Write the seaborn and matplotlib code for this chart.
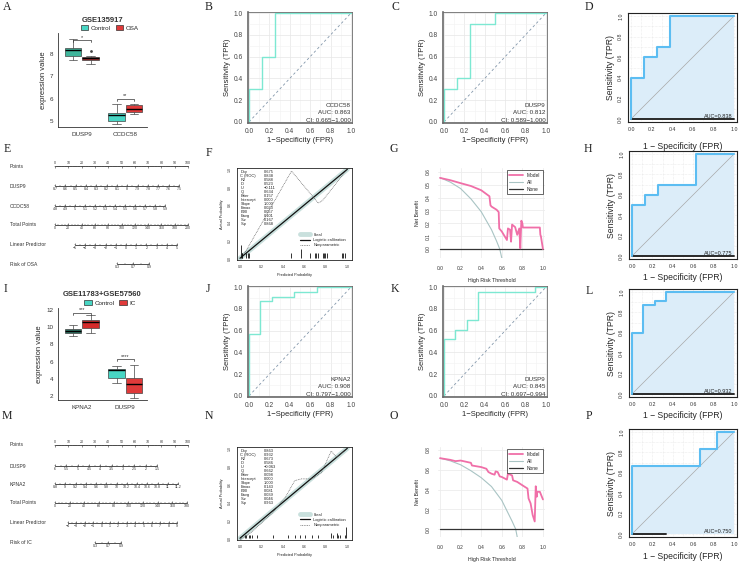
import numpy as np
import pandas as pd
import matplotlib
matplotlib.use("Agg")
import matplotlib.pyplot as plt
import seaborn as sns
from matplotlib.patches import Patch

W, H = 741, 563

# ---------------- data ----------------
# A: GSE135917 expression (raw points giving each box)
a_genes = ["DUSP9", "CCDC58"]
a_groups = ["Control", "OSA"]
a_dusp9_control = [7.74, 7.92, 8.17, 8.27, 8.68]
a_dusp9_osa = [7.56, 7.65, 7.73, 7.78, 7.82, 7.85, 7.88, 7.90, 8.15]
a_ccdc58_control = [4.85, 5.00, 5.26, 5.38, 5.75]
a_ccdc58_osa = [5.33, 5.39, 5.56, 5.74, 5.78]
a_sig = ["*", "**"]

# I: GSE11783+GSE57560 expression
i_genes = ["KPNA2", "DUSP9"]
i_groups = ["Control", "IC"]
i_kpna2_control = [8.96, 9.35, 9.54, 9.73, 10.23]
i_kpna2_ic = [9.35, 9.92, 10.58, 10.81, 11.35]
i_dusp9_control = [3.50, 4.12, 5.04, 5.19, 5.50]
i_dusp9_ic = [1.85, 2.42, 3.46, 4.15, 5.58]
i_sig = ["***", "****"]

# ROC curves (ggplot style)
b_fpr = [0, 0, 0.125, 0.125, 0.25, 0.25, 1]
b_tpr = [0, 0.3, 0.3, 0.6, 0.6, 1.0, 1.0]
c_fpr = [0, 0, 0.125, 0.125, 0.25, 0.25, 0.5, 0.5, 1]
c_tpr = [0, 0.3, 0.3, 0.4, 0.4, 0.9, 0.9, 1.0, 1.0]
j_fpr = [0, 0, 0.111, 0.111, 0.222, 0.222, 0.444, 0.444, 0.667, 0.667, 1]
j_tpr = [0, 0.565, 0.565, 0.87, 0.87, 0.913, 0.913, 0.957, 0.957, 1.0, 1.0]
k_fpr = [0, 0, 0.111, 0.111, 0.222, 0.222, 0.333, 0.333, 0.889, 0.889, 1]
k_tpr = [0, 0.52, 0.52, 0.61, 0.61, 0.70, 0.70, 0.957, 0.957, 1.0, 1.0]
roc_text = {
    "B": ["CCDC58", "AUC: 0.863", "CI: 0.665\u22121.000"],
    "C": ["DUSP9", "AUC: 0.812", "CI: 0.589\u22121.000"],
    "J": ["KPNA2", "AUC: 0.908", "CI: 0.797\u22121.000"],
    "K": ["DUSP9", "AUC: 0.845", "CI: 0.697\u22120.994"],
}

# ROC curves (nomogram models, base R style)
d_fpr = [0, 0, 0.125, 0.125, 0.25, 0.25, 0.375, 0.375, 1]
d_tpr = [0, 0.4, 0.4, 0.6, 0.6, 0.7, 0.7, 1.0, 1.0]
h_fpr = [0, 0, 0.125, 0.125, 0.25, 0.25, 0.625, 0.625, 1]
h_tpr = [0, 0.5, 0.5, 0.6, 0.6, 0.7, 0.7, 1.0, 1.0]
l_fpr = [0, 0, 0.111, 0.111, 0.222, 0.222, 0.333, 0.333, 1]
l_tpr = [0, 0.6, 0.6, 0.87, 0.87, 0.91, 0.91, 1.0, 1.0]
p_fpr = [0, 0, 0.667, 0.667, 0.833, 0.833, 1]
p_tpr = [0, 0.667, 0.667, 0.833, 0.833, 1.0, 1.0]
auc_labels = {"D": "AUC=0.838", "H": "AUC=0.775", "L": "AUC=0.932", "P": "AUC=0.750"}

# decision curves
g_model_x = [0, 0.1, 0.2, 0.3, 0.4, 0.48, 0.49, 0.5, 0.55, 0.57, 0.575, 0.6, 0.65, 0.66,
             0.68, 0.69, 0.70, 0.73, 0.75, 0.77, 0.78, 0.79, 0.80, 0.805, 0.97, 0.975, 0.98, 1.0]
g_model_y = [0.553, 0.535, 0.512, 0.49, 0.457, 0.41, 0.34, 0.33, 0.305, 0.287, 0.16, 0.136, 0.07, 0.16,
             0.15, 0.057, 0.19, 0.17, 0.11, 0.16, 0.005, 0.22, 0.20, 0.167, 0.167, 0.11, 0.10, 0.0]
g_all_x = [0, 0.1, 0.2, 0.3, 0.4, 0.5, 0.55, 0.58, 0.6]
g_all_y = [0.555, 0.52, 0.47, 0.39, 0.29, 0.15, 0.06, 0.0, -0.07]
o_model_x = [0, 0.1, 0.15, 0.2, 0.3, 0.31, 0.4, 0.45, 0.47, 0.5, 0.53, 0.54, 0.56, 0.58, 0.6,
             0.65, 0.66, 0.7, 0.71, 0.75, 0.8, 0.85, 0.86, 0.88, 0.9, 0.92, 0.93, 0.94, 0.945, 0.97, 1.0]
o_model_y = [0.717, 0.70, 0.687, 0.693, 0.67, 0.643, 0.627, 0.61, 0.577, 0.56, 0.55, 0.583, 0.577, 0.533, 0.527,
             0.50, 0.56, 0.543, 0.493, 0.477, 0.443, 0.41, 0.31, 0.26, 0.143, 0.077, 0.433, 0.327, 0.377, 0.377, 0.30]
o_all_x = [0, 0.1, 0.2, 0.3, 0.4, 0.5, 0.6, 0.7, 0.735, 0.75]
o_all_y = [0.717, 0.69, 0.65, 0.59, 0.52, 0.43, 0.29, 0.08, 0.0, -0.08]

# calibration curves
cal_names = ["Dxy", "C (ROC)", "R2", "D", "U", "Q", "Brier", "Intercept", "Slope",
             "Emax", "E90", "Eavg", "S:z", "S:p"]
f_stats = ["0.675", "0.838", "0.588", "0.523", "\u22120.111", "0.634", "0.157", "0.000", "1.000",
           "0.023", "0.057", "0.101", "0.167", "0.868"]
n_stats = ["0.863", "0.932", "0.673", "0.586", "\u22120.063", "0.662", "0.098", "0.000", "1.000",
           "0.143", "0.081", "0.039", "0.046", "0.963"]
f_np_x = [0.0, 0.05, 0.48, 0.73, 0.77, 1.0]
f_np_y = [0.0, 0.07, 0.98, 0.62, 0.65, 1.0]
n_np_x = [0.0, 0.11, 0.3, 0.42, 0.51, 0.57, 0.67, 0.76, 0.85, 0.9, 1.0]
n_np_y = [-0.02, 0.07, 0.28, 0.45, 0.64, 0.66, 0.66, 0.73, 0.97, 0.9, 1.0]
f_rug_x = [0.01, 0.016, 0.02, 0.06, 0.07, 0.08, 0.475, 0.57, 0.65, 0.70, 0.71, 0.73,
           0.77, 0.78, 0.79, 0.81, 0.95, 0.96, 0.98]
f_rug_h = [0.15, 0.06, 0.06, 0.06, 0.06, 0.06, 0.06, 0.1, 0.06, 0.06, 0.06, 0.06,
           0.06, 0.06, 0.06, 0.06, 0.06, 0.06, 0.06]
n_rug_x = [0.05, 0.06, 0.08, 0.09, 0.11, 0.16, 0.31, 0.45, 0.51, 0.56, 0.61, 0.67,
           0.73, 0.85, 0.87, 0.90, 0.91, 0.93, 0.98, 0.99]
n_rug_h = [0.04, 0.04, 0.04, 0.04, 0.04, 0.04, 0.04, 0.04, 0.04, 0.04, 0.04, 0.04,
           0.04, 0.06, 0.04, 0.06, 0.04, 0.04, 0.04, 0.12]

# nomograms
e_rows = ["Points", "DUSP9", "CCDC58", "Total Points", "Linear Predictor", "Risk of OSA"]
e_points = ["0", "10", "20", "30", "40", "50", "60", "70", "80", "90", "100"]
e_dusp9 = ["8.7", "8.6", "8.5", "8.4", "8.3", "8.2", "8.1", "8", "7.9", "7.8", "7.7", "7.6", "7.5"]
e_ccdc58 = ["4.8", "4.9", "5", "5.1", "5.2", "5.3", "5.4", "5.5", "5.6", "5.7", "5.8", "5.9"]
e_total = ["0", "20", "40", "60", "80", "100", "120", "140", "160", "180", "200"]
e_lp = ["\u22125", "\u22124", "\u22123", "\u22122", "\u22121", "0", "1", "2", "3", "4", "5"]
e_risk = ["0.3", "0.7", "0.9"]
m_rows = ["Points", "DUSP9", "KPNA2", "Total Points", "Linear Predictor", "Risk of IC"]
m_points = ["0", "10", "20", "30", "40", "50", "60", "70", "80", "90", "100"]
m_dusp9 = ["6", "5.5", "5", "4.5", "4", "3.5", "3", "2.5", "2", "1.5"]
m_kpna2 = ["8.8", "9", "9.2", "9.4", "9.6", "9.8", "10", "10.2", "10.4", "10.6", "10.8", "11", "11.2"]
m_total = ["0", "20", "40", "60", "80", "100", "120", "140", "160", "180"]
m_lp = ["\u22124", "\u22123", "\u22122", "\u22121", "0", "1", "2", "3", "4", "5", "6", "7", "8", "9"]
m_risk = ["0.3", "0.7", "0.9"]

# ---------------- style ----------------
sns.set_theme(style="white")
plt.rcParams["font.family"] = ["Liberation Sans", "DejaVu Sans"]
plt.rcParams["axes.unicode_minus"] = True

TEAL = "#48d6c4"
ROC_GREEN = "#7de8d2"
BLUE = "#5cbdf2"
FILL = "#dcedf9"
PINK = "#f06fa8"
ALLC = "#a9c4c4"

fig = plt.figure(figsize=(W / 100, H / 100), dpi=100)


def add_ax(box):
    l, t, r, b = box
    return fig.add_axes([l / W, 1 - b / H, (r - l) / W, (b - t) / H])


def letter(x, y, s):
    fig.text(x / W, 1 - y / H, s, fontsize=8.5, family="Liberation Serif",
             ha="center", va="center", color="#222222")


def expr_panel(box, title, genes, groups, data, colors, sig, sig_y, ylim, yticks):
    rows = []
    for (gene, grp), vals in data.items():
        for v in vals:
            rows.append((gene, grp, v))
    df = pd.DataFrame(rows, columns=["gene", "group", "value"])
    ax = add_ax(box)
    sns.boxplot(data=df, x="gene", y="value", hue="group", order=genes, hue_order=groups,
                width=0.8, gap=0.05, linewidth=0.5, linecolor="#444444", fliersize=1.0,
                medianprops={"color": "black", "linewidth": 1.0},
                palette=[colors[(genes[0], g)] for g in groups], ax=ax, legend=False)
    # colour each box individually
    for p in ax.patches:
        verts = p.get_path().vertices
        cx = verts[:, 0].mean()
        gi = int(round(cx))
        gr = groups[0] if cx < gi else groups[1]
        p.set_facecolor(colors[(genes[gi], gr)])
    for gi, s in enumerate(sig):
        y = sig_y[gi]
        d = (ylim[1] - ylim[0]) * 0.02
        ax.plot([gi - 0.2, gi - 0.2, gi + 0.2, gi + 0.2], [y - d, y, y, y - d], color="#333333", lw=0.5)
        ax.text(gi, y + d * 0.2, s, ha="center", va="bottom", fontsize=4, color="#333333")
    ax.set_xlim(-0.55, 1.5)
    ax.set_ylim(*ylim)
    ax.set_yticks(yticks)
    ax.set_xlabel("")
    ax.set_ylabel("expression value", fontsize=5.5, labelpad=2)
    ax.tick_params(axis="both", labelsize=4.5, length=2, width=0.5, pad=1.5, colors="#333333")
    sns.despine(ax=ax)
    for sp in ["left", "bottom"]:
        ax.spines[sp].set_linewidth(0.6)
        ax.spines[sp].set_color("#333333")
    l, t, r, b = box
    fig.text((l + r) / 2 / W, 1 - (t - 13) / H, title, ha="center", va="center",
             fontsize=5.5, fontweight="bold", color="#333333")
    handles = [Patch(facecolor=colors[(genes[1], g)], edgecolor="#333333", linewidth=0.5, label=g)
               for g in groups]
    fig.legend(handles=handles, loc="center", bbox_to_anchor=((l + r) / 2 / W + 0.01, 1 - (t - 5) / H),
               ncol=2, frameon=False, fontsize=4.5, handlelength=1.2, handleheight=0.8,
               columnspacing=0.8, handletextpad=0.4)
    return ax


def roc_gg(box, fpr, tpr, lines):
    ax = add_ax(box)
    df = pd.DataFrame({"fpr": fpr, "tpr": tpr})
    ax.set_xticks(np.arange(0, 1.01, 0.2))
    ax.set_yticks(np.arange(0, 1.01, 0.2))
    ax.set_xticks(np.arange(0.1, 1.0, 0.2), minor=True)
    ax.set_yticks(np.arange(0.1, 1.0, 0.2), minor=True)
    ax.grid(True, which="major", color="#e6e6e6", lw=0.5)
    ax.grid(True, which="minor", color="#f2f2f2", lw=0.4)
    ax.set_axisbelow(True)
    ax.plot([0, 1], [0, 1], ls=(0, (3, 3)), color="#8296aa", lw=0.6)
    sns.lineplot(data=df, x="fpr", y="tpr", sort=False, estimator=None, color=ROC_GREEN, lw=1.0, ax=ax)
    ax.set_xlim(-0.01, 1.01)
    ax.set_ylim(-0.01, 1.01)
    ax.set_xticklabels(["0.0", "0.2", "0.4", "0.6", "0.8", "1.0"])
    ax.set_yticklabels(["0.0", "0.2", "0.4", "0.6", "0.8", "1.0"])
    ax.tick_params(axis="both", which="major", labelsize=4.8, length=2, width=0.5, pad=1.5,
                   colors="#444444")
    ax.tick_params(which="minor", length=0)
    for sp in ax.spines.values():
        sp.set_color("#6a6a6a")
        sp.set_linewidth(0.6)
    ax.spines["left"].set_linewidth(1.2)
    ax.spines["bottom"].set_linewidth(1.2)
    ax.set_xlabel("1\u2212Specificity (FPR)", fontsize=5.5, labelpad=1.5)
    ax.set_ylabel("Sensitivity (TPR)", fontsize=5.5, labelpad=2)
    for k, s in enumerate(lines):
        ax.text(0.985, 0.16 - k * 0.067, s, transform=ax.transAxes, ha="right", va="center",
                fontsize=4.5, color="#333333")
    return ax


def roc_base(box, fpr, tpr, auc_label, bottom_end=1.0, xpad=3):
    ax = add_ax(box)
    df = pd.DataFrame({"fpr": fpr, "tpr": tpr})
    ax.set_xticks(np.arange(0, 1.01, 0.2))
    ax.set_yticks(np.arange(0, 1.01, 0.2))
    ax.set_xticks(np.arange(0.1, 1.0, 0.2), minor=True)
    ax.set_yticks(np.arange(0.1, 1.0, 0.2), minor=True)
    ax.grid(True, which="both", color="#dddddd", lw=0.4, ls=(0, (1, 1.5)))
    ax.set_axisbelow(True)
    ax.fill_between(df["fpr"], df["tpr"], 0, color=FILL, lw=0)
    ax.plot([0, 1], [0, 1], color="#a8a8a8", lw=0.5)
    ax.plot([0, bottom_end], [0, 0], color="#2a2a2a", lw=1.4)
    sns.lineplot(data=df, x="fpr", y="tpr", sort=False, estimator=None, color=BLUE, lw=1.5, ax=ax)
    ax.set_xlim(-0.03, 1.03)
    ax.set_ylim(-0.03, 1.03)
    ax.set_xticklabels(["0.0", "0.2", "0.4", "0.6", "0.8", "1.0"])
    ax.set_yticklabels(["0.0", "0.2", "0.4", "0.6", "0.8", "1.0"], rotation=90, va="center")
    ax.tick_params(axis="both", which="major", labelsize=3.8, length=2, width=0.5, pad=1.5,
                   colors="#333333")
    ax.tick_params(which="minor", length=0)
    for sp in ax.spines.values():
        sp.set_color("#222222")
        sp.set_linewidth(0.8)
    ax.set_xlabel("1 \u2212 Specificity (FPR)", fontsize=6.2, labelpad=xpad)
    ax.set_ylabel("Sensitivity (TPR)", fontsize=6.2, labelpad=2)
    ax.text(0.96, 0.05, auc_label, transform=ax.transAxes, ha="right", va="center", fontsize=4,
            color="#222222")
    return ax


def dca(box, mx, my, axx, ally, ylim, yticks):
    ax = add_ax(box)
    ax.set_xticks(np.arange(0, 1.01, 0.2))
    ax.set_yticks(yticks)
    ax.grid(True, color="#ececec", lw=0.6)
    ax.set_axisbelow(True)
    sns.lineplot(x=axx, y=ally, sort=False, estimator=None, color=ALLC, lw=0.8, ax=ax, label="All")
    ax.plot([0, 1], [0, 0], color="#333333", lw=0.9, label="None")
    sns.lineplot(x=mx, y=my, sort=False, estimator=None, color=PINK, lw=1.3, ax=ax, label="Model")
    ax.set_xlim(-0.02, 1.02)
    ax.set_ylim(*ylim)
    ax.set_xticklabels(["0.0", "0.2", "0.4", "0.6", "0.8", "1.0"])
    ax.set_yticklabels([f"{v:.1f}" for v in yticks], rotation=90, va="center")
    ax.tick_params(axis="both", labelsize=3.5, length=1.5, width=0.4, pad=4, colors="#333333")
    for sp in ax.spines.values():
        sp.set_visible(False)
    ax.set_xlabel("High Risk Threshold", fontsize=3.8, labelpad=5)
    ax.set_ylabel("Net Benefit", fontsize=3.8, labelpad=4)
    h, lab = ax.get_legend_handles_labels()
    order = [lab.index("Model"), lab.index("All"), lab.index("None")]
    leg = ax.legend([h[i] for i in order], [lab[i] for i in order], loc="upper right",
                    bbox_to_anchor=(1.0, 1.0), fontsize=3.5, frameon=True, fancybox=False,
                    edgecolor="#222222", handlelength=2.8, borderpad=0.5, labelspacing=0.4)
    leg.get_frame().set_linewidth(0.6)
    return ax


def calib(box, stats, npx, npy, rugx, rugh):
    ax = add_ax(box)
    ax.plot([0, 1], [0, 1], color="#c9e0dd", lw=3.5, solid_capstyle="round", label="Ideal")
    sns.lineplot(x=[0, 1], y=[0, 1], color="#111111", lw=0.9, ax=ax, label="Logistic calibration")
    sns.lineplot(x=npx, y=npy, sort=False, estimator=None, color="#555555", lw=0.5, ls=(0, (1.2, 1.2)),
                 ax=ax, label="Nonparametric")
    ax.vlines(rugx, 0, rugh, color="#111111", lw=0.6)
    ax.set_xlim(-0.028, 1.044)
    ax.set_ylim(-0.02, 1.015)
    ax.set_xticks(np.arange(0, 1.01, 0.2))
    ax.set_yticks(np.arange(0, 1.01, 0.2))
    ax.set_xticklabels(["0.0", "0.2", "0.4", "0.6", "0.8", "1.0"])
    ax.set_yticklabels(["0.0", "0.2", "0.4", "0.6", "0.8", "1.0"], rotation=90, va="center")
    ax.tick_params(axis="both", labelsize=2.5, length=1.5, width=0.4, pad=2, colors="#333333")
    for sp in ax.spines.values():
        sp.set_color("#222222")
        sp.set_linewidth(0.6)
    ax.set_xlabel("Predicted Probability", fontsize=2.8, labelpad=3)
    ax.set_ylabel("Actual Probability", fontsize=2.8, labelpad=3)
    for k, (nm, val) in enumerate(zip(cal_names, stats)):
        y = 0.955 - k * 0.043
        ax.text(0.03, y, nm, transform=ax.transAxes, fontsize=2.9, va="center", color="#222222")
        ax.text(0.235, y, val, transform=ax.transAxes, fontsize=2.9, va="center", color="#222222")
    ax.legend(loc="lower right", bbox_to_anchor=(0.98, 0.1), fontsize=2.9, frameon=False,
              handlelength=2.5, labelspacing=0.3)
    return ax


def nomogram(region, names, scales, layout):
    ax = add_ax(region)
    l, t, r, b = region
    ax.set_xlim(l, r)
    ax.set_ylim(b, t)
    ax.axis("off")
    for name, labels, (y, x0, x1, above, minor) in zip(names, scales, layout):
        ax.text(10, y, name, fontsize=3.6, va="center", ha="left", color="#333333")
        ax.plot([x0, x1], [y, y], color="#333333", lw=0.6, clip_on=False)
        pos = np.linspace(x0, x1, len(labels))
        step = (x1 - x0) / (len(labels) - 1)
        mpos = np.arange(x0, x1 + 0.01, step / minor)
        d = -1 if above else 1
        ax.vlines(mpos, y, y - d * 0.9, color="#333333", lw=0.3, clip_on=False)
        ax.vlines(pos, y, y - d * 1.8, color="#333333", lw=0.4, clip_on=False)
        for p, s in zip(pos, labels):
            ax.text(p, y + (-3.2 if above else 3.4), s, fontsize=2.6, ha="center", va="center",
                    color="#333333", clip_on=False)


# ---------------- row 1 ----------------
a_colors = {("DUSP9", "Control"): "#3fb59b", ("DUSP9", "OSA"): "#9a2a2a",
            ("CCDC58", "Control"): TEAL, ("CCDC58", "OSA"): "#e03a3a"}
expr_panel((58, 33, 147, 127), "GSE135917", a_genes, a_groups,
           {("DUSP9", "Control"): a_dusp9_control, ("DUSP9", "OSA"): a_dusp9_osa,
            ("CCDC58", "Control"): a_ccdc58_control, ("CCDC58", "OSA"): a_ccdc58_osa},
           a_colors, a_sig, [8.62, 6.0], (4.73, 8.95), [5, 6, 7, 8])

roc_gg((248, 12, 352, 123), b_fpr, b_tpr, roc_text["B"])
roc_gg((443, 12, 547, 123), c_fpr, c_tpr, roc_text["C"])
roc_base((628, 13, 737, 122), d_fpr, d_tpr, auc_labels["D"], xpad=7)

# ---------------- row 2 ----------------
nomogram((0, 150, 185, 275), e_rows,
         [e_points, e_dusp9, e_ccdc58, e_total, e_lp, e_risk],
         [(166, 55, 188, True, 5), (186, 55, 179, False, 2), (206, 55, 165, False, 2),
          (225, 55, 188, False, 4), (245, 75, 177, False, 2), (264, 117, 149, False, 2)])
calib((237, 168, 352, 260), f_stats, f_np_x, f_np_y, f_rug_x, f_rug_h)
dca((438, 168, 545, 258), g_model_x, g_model_y, g_all_x, g_all_y, (-0.07, 0.63),
    [0.0, 0.1, 0.2, 0.3, 0.4, 0.5, 0.6])
roc_base((629, 151, 737, 259), h_fpr, h_tpr, auc_labels["H"])

# ---------------- row 3 ----------------
i_colors = {("KPNA2", "Control"): "#2f7565", ("KPNA2", "IC"): "#d42a2a",
            ("DUSP9", "Control"): TEAL, ("DUSP9", "IC"): "#e03a3a"}
expr_panel((58, 308, 147, 400), "GSE11783+GSE57560", i_genes, i_groups,
           {("KPNA2", "Control"): i_kpna2_control, ("KPNA2", "IC"): i_kpna2_ic,
            ("DUSP9", "Control"): i_dusp9_control, ("DUSP9", "IC"): i_dusp9_ic},
           i_colors, i_sig, [11.65, 6.27], (1.58, 12.2), [2, 4, 6, 8, 10, 12])
roc_gg((248, 286, 352, 397), j_fpr, j_tpr, roc_text["J"])
roc_gg((443, 286, 547, 397), k_fpr, k_tpr, roc_text["K"])
roc_base((629, 289, 737, 397), l_fpr, l_tpr, auc_labels["L"])

# ---------------- row 4 ----------------
nomogram((0, 430, 185, 555), m_rows,
         [m_points, m_dusp9, m_kpna2, m_total, m_lp, m_risk],
         [(445, 55, 188, True, 5), (466, 55, 157, False, 2), (484, 55, 178, False, 2),
          (503, 55, 187, False, 4), (523, 68, 177, False, 2), (543, 95, 121, False, 2)])
calib((237, 447, 352, 540), n_stats, n_np_x, n_np_y, n_rug_x, n_rug_h)
dca((438, 447, 545, 537), o_model_x, o_model_y, o_all_x, o_all_y, (-0.08, 0.83),
    [0.0, 0.2, 0.4, 0.6, 0.8])
roc_base((629, 429, 737, 537), p_fpr, p_tpr, auc_labels["P"], bottom_end=0.33, xpad=4)

# panel letters
for s, x, y in [("A", 7, 7), ("B", 209, 7), ("C", 395, 7), ("D", 589, 7),
                ("E", 7, 149), ("F", 209, 153), ("G", 394, 149), ("H", 588, 149),
                ("I", 5, 289), ("J", 208, 289), ("K", 395, 289), ("L", 589, 291),
                ("M", 7, 416), ("N", 209, 416), ("O", 394, 416), ("P", 589, 416)]:
    letter(x, y, s)

fig.savefig("out.png", dpi=100)
